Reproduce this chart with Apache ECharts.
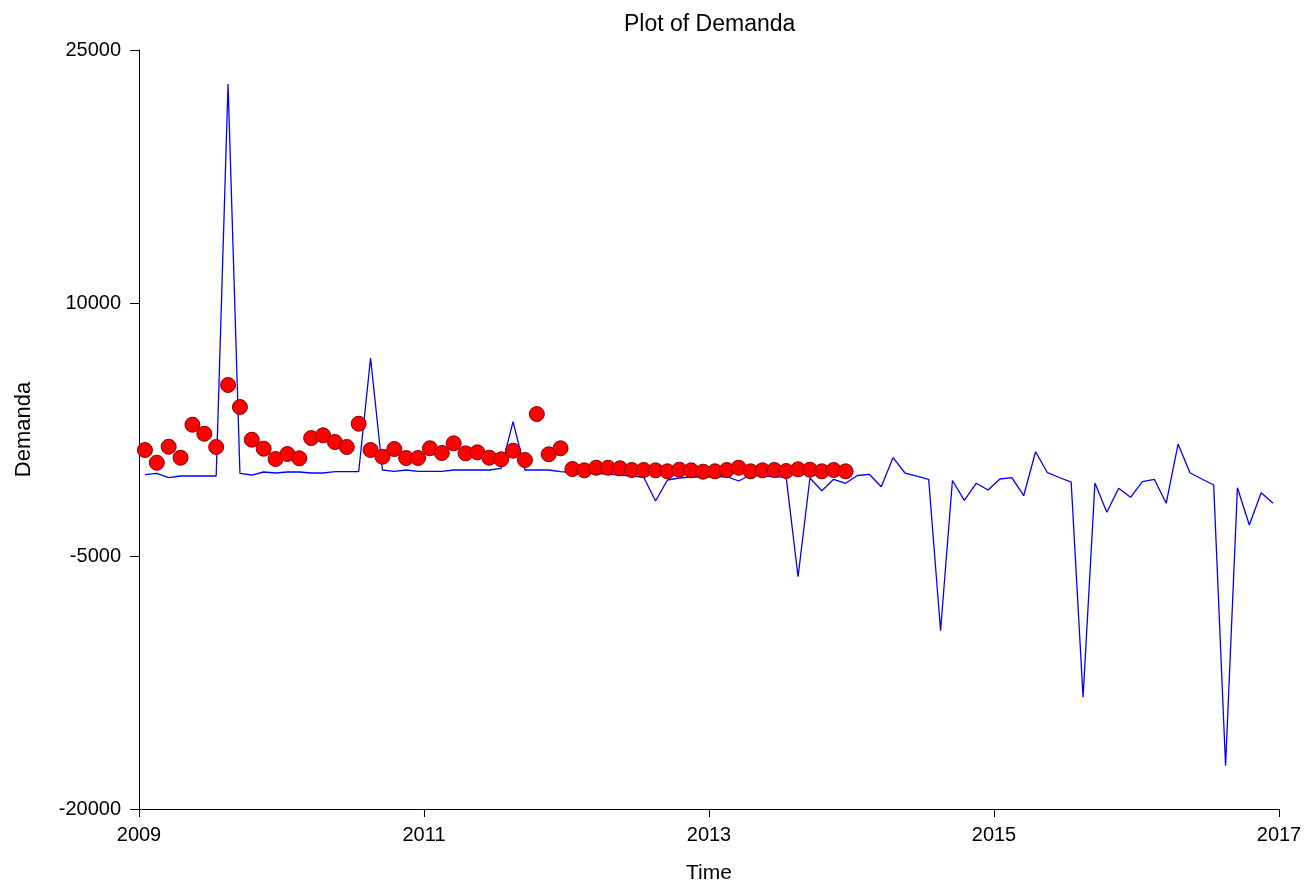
<!DOCTYPE html>
<html>
<head>
<meta charset="utf-8">
<script src="https://cdn.jsdelivr.net/npm/echarts@6/dist/echarts.min.js"></script>
<style>
html,body{margin:0;padding:0;background:#fff;}
#chart{width:1309px;height:887px;}
</style>
</head>
<body>
<div id="chart"></div>
<script>
// Monthly series starting January 2009
var startYear = 2009;
var monthsPerYear = 12;

// Demanda (observed, red dots): Jan 2009 - Dec 2013
var demanda = [
  1284, 531, 1480, 827, 2784, 2250, 1462, 5138, 3833, 1895, 1361, 750,
  1047, 792, 1995, 2155, 1758, 1462, 2843, 1284, 887, 1343, 810, 810,
  1385, 1106, 1681, 1086, 1148, 827, 732, 1243, 691, 3418, 1029, 1385,
  157, 80, 234, 234, 199, 98, 98, 80, 21, 116, 80, -2,
  21, 98, 234, 21, 80, 98, 39, 139, 116, 21, 98, 21
];

// Blue line: Jan 2009 - Dec 2016
var lineValues = [
  -180, -97, -358, -258, -258, -258, -258, 22984, -97, -198, -20, -80,
  -20, -20, -80, -80, -3, -3, -3, 6739, 98, 21, 98, 21,
  21, 21, 98, 98, 98, 98, 199, 2962, 98, 98, 98, -3,
  -50, -80, -110, -140, -198, -258, -335, -1740, -495, -376, -317, -317,
  -317, -297, -554, -198, -258, -288, -335, -6228, -376, -1129, -453, -690,
  -228, -157, -892, 827, -80, -258, -453, -9430, -524, -1698, -690, -1088,
  -435, -358, -1426, 1183, -62, -347, -625, -13378, -673, -2410, -987, -1520,
  -596, -453, -1876, 1640, -62, -435, -791, -17434, -951, -3163, -1248, -1876
];

var xTicks = [2009, 2011, 2013, 2015, 2017];
var yTicks = [-20000, -5000, 10000, 25000];

function timeOf(i) { return startYear + (i + 0.5) / monthsPerYear; }
var lineData = lineValues.map(function (v, i) { return [timeOf(i), v]; });
var dotData = demanda.map(function (v, i) { return [timeOf(i), v]; });

var FONT = '"Liberation Sans", Arial, Helvetica, sans-serif';
var chart = echarts.init(document.getElementById('chart'), null, {renderer: 'canvas'});
chart.setOption({
  backgroundColor: '#ffffff',
  animation: false,
  title: {
    text: 'Plot of Demanda',
    left: 624,
    top: 13,
    padding: 0,
    textStyle: {fontFamily: FONT, fontSize: 23, fontWeight: 'normal', color: '#000'}
  },
  grid: {left: 139, right: 30, top: 50, bottom: 78, containLabel: false, outerBoundsMode: 'none'},
  xAxis: {
    type: 'value',
    min: 2009, max: 2017,
    name: 'Time',
    nameLocation: 'middle',
    nameGap: 54,
    nameTextStyle: {fontFamily: FONT, fontSize: 21, color: '#000'},
    axisLine: {show: true, onZero: false, lineStyle: {color: '#000', width: 1}},
    axisTick: {show: true, length: 8, customValues: xTicks, lineStyle: {color: '#000'}},
    axisLabel: {show: true, margin: 16, customValues: xTicks, fontFamily: FONT, fontSize: 20, color: '#000',
      formatter: function (v) { return String(v); }},
    splitLine: {show: false}
  },
  yAxis: {
    type: 'value',
    min: -20000, max: 25000,
    name: 'Demanda',
    nameLocation: 'middle',
    nameGap: 104,
    nameTextStyle: {fontFamily: FONT, fontSize: 22, color: '#000'},
    axisLine: {show: true, onZero: false, lineStyle: {color: '#000', width: 1}},
    axisTick: {show: true, length: 9, customValues: yTicks, lineStyle: {color: '#000'}},
    axisLabel: {show: true, margin: 18, customValues: yTicks, fontFamily: FONT, fontSize: 20, color: '#000',
      formatter: function (v) { return String(v); }},
    splitLine: {show: false}
  },
  series: [
    {
      type: 'line',
      data: lineData,
      showSymbol: false,
      symbol: 'none',
      lineStyle: {color: '#0000ff', width: 1.3},
      z: 2
    },
    {
      type: 'scatter',
      data: dotData,
      symbol: 'circle',
      symbolSize: 15,
      itemStyle: {color: '#ff0000', borderColor: '#8b0000', borderWidth: 1, opacity: 1},
      z: 3
    }
  ]
});
</script>
</body>
</html>
